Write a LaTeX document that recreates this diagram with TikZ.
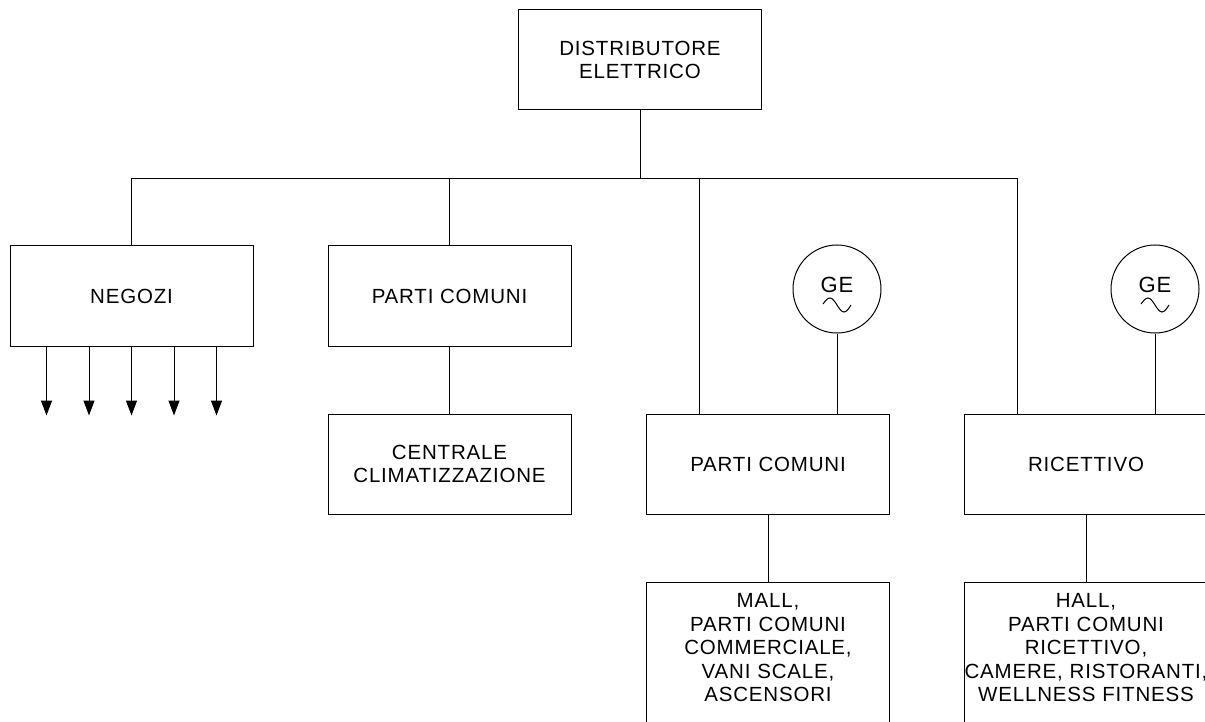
\documentclass[tikz,border=0pt]{standalone}
\usepackage{fontspec}
\setmainfont{Liberation Sans}[LetterSpace=4]
\usetikzlibrary{arrows.meta}
\tikzset{
  quadro/.style={draw, minimum width=243pt, minimum height=100pt, align=center, inner sep=0pt},
  utenza/.style={draw, anchor=north, text width=243pt, align=center, inner xsep=0pt, inner ysep=11pt},
  gruppo/.style={draw, circle, minimum size=88pt, inner sep=0pt},
  linea/.style={-{Triangle[width=11pt,length=15pt]}}
}
\begin{document}
\begin{tikzpicture}[x=1pt,y=-1pt,line width=1pt,font=\fontsize{20.5}{23.5}\selectfont]
   \useasboundingbox (0,0) rectangle (1205,722);
   \clip (0,0) rectangle (1205,722);
   \node[quadro] (dist) at (640,60) {DISTRIBUTORE\\ELETTRICO};
   \node[quadro] (neg) at (131.5,296) {NEGOZI};
   \node[quadro] (pc) at (449.5,296) {PARTI COMUNI};
   \node[quadro] (clima) at (449.5,464) {CENTRALE\\CLIMATIZZAZIONE};
   \node[quadro] (pcm) at (768,464) {PARTI COMUNI};
   \node[quadro] (ric) at (1086,464) {RICETTIVO};
   \node[utenza] (mall) at (768,582) {MALL,\\PARTI COMUNI\\COMMERCIALE,\\VANI SCALE,\\ASCENSORI\\[40pt]\mbox{}};
   \node[utenza] (hall) at (1086,582) {HALL,\\PARTI COMUNI\\RICETTIVO,\\CAMERE, RISTORANTI,\\WELLNESS FITNESS\\[40pt]\mbox{}};
   \node[gruppo] (ge1) at (837,289) {};
   \node[gruppo] (ge2) at (1155,289) {};
   \node[font=\fontsize{22}{24}\selectfont] (ge1t) at (837,285) {GE};
   \node[font=\fontsize{22}{24}\selectfont] (ge2t) at (1155,285) {GE};
   \draw[shift={(ge1.center)}] (-14,15) sin (-7,9) cos (0,16) sin (7,23) cos (14,16);
   \draw[shift={(ge2.center)}] (-14,15) sin (-7,9) cos (0,16) sin (7,23) cos (14,16);
   \draw (dist.south) -- ++(0,68) coordinate (bus);
   \coordinate (fpcm) at ([xshift=-69pt]pcm.north);
   \coordinate (fric) at ([xshift=-69pt]ric.north);
   \draw (neg.north) |- (fric |- bus) -- (fric);
   \draw (pc.north) -- (pc.north |- bus);
   \draw (fpcm) -- (fpcm |- bus);
   \draw (ge1.south) -- (ge1.south |- pcm.north);
   \draw (ge2.south) -- (ge2.south |- ric.north);
   \draw (pc.south) -- (clima.north);
   \draw (pcm.south) -- (mall.north);
   \draw (ric.south) -- (hall.north);
   \foreach \dx in {-85,-42.5,0,42.5,85}
      \draw[linea] ([xshift=\dx pt]neg.south) -- ++(0,69);
\end{tikzpicture}
\end{document}
